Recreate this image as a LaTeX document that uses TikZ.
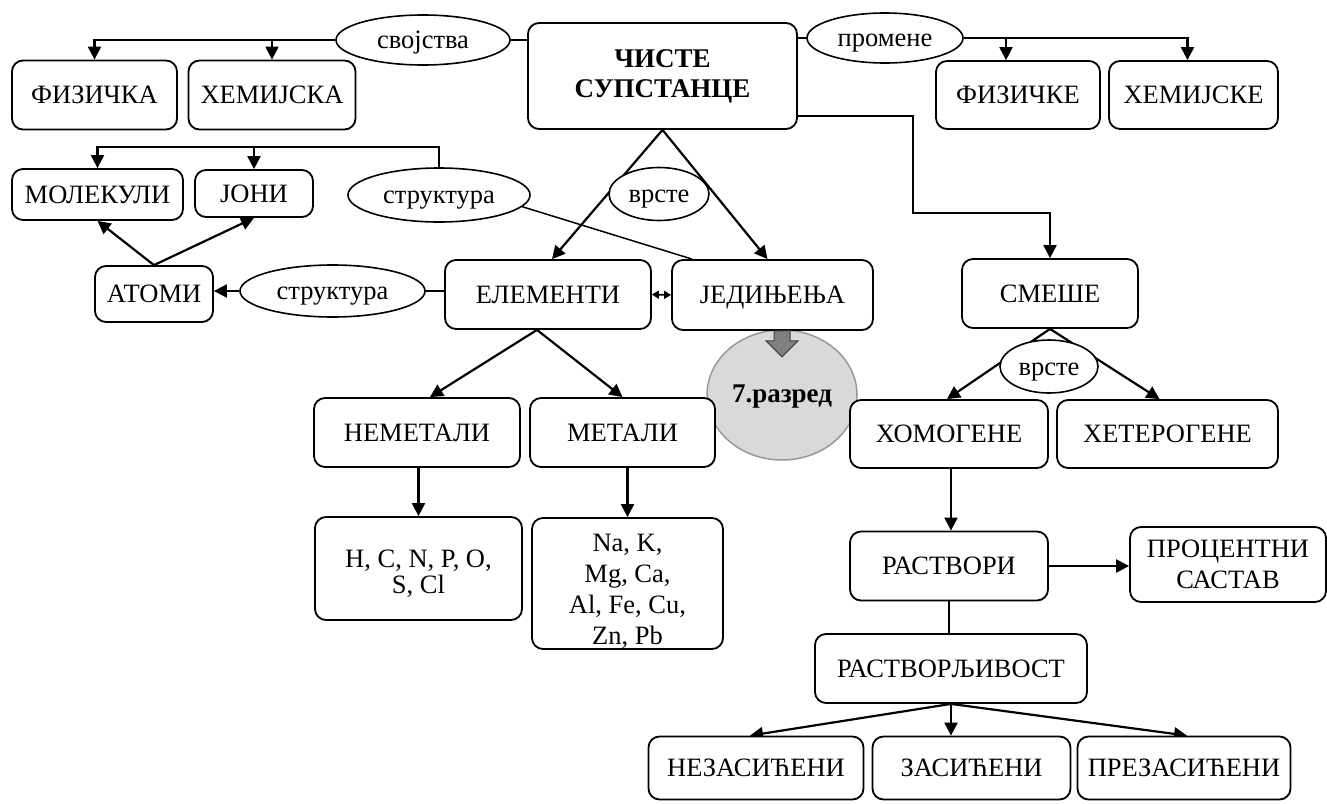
\documentclass[tikz,border=0pt]{standalone}
\usepackage{fontspec}
\setmainfont{Liberation Serif}
\usetikzlibrary{arrows.meta,shapes.geometric,calc}
\pgfdeclarelayer{bg}
\pgfsetlayers{bg,main}
\tikzset{
  sz/.style 2 args={minimum width=#1pt, minimum height=#2pt},
  box/.style={draw, fill=white, line width=1.8pt, rounded corners=11pt, inner sep=0pt, align=center, font=\fontsize{26.5}{31}\selectfont},
  one/.style={text height=17.5pt, text depth=0pt},
  oval/.style={draw, ellipse, fill=white, line width=1.6pt, inner sep=0pt, text height=21pt, text depth=4pt, font=\fontsize{26.5}{31}\selectfont},
  arr/.style={line width=2.2pt, -{Triangle[length=13pt,width=13pt]}},
  ln/.style={line width=2pt},
  thinln/.style={line width=1.5pt},
  dbl/.style={line width=1.6pt, {Triangle[length=7pt,width=8pt]}-{Triangle[length=7pt,width=8pt]}},
}
\begin{document}
\begin{tikzpicture}[x=1pt,y=-1pt]
\useasboundingbox (0,0) rectangle (1327,803);
% grade circle
\node[ellipse, draw=black!40, fill=black!15, line width=1.5pt, minimum width=150pt, minimum height=130pt, inner sep=0pt, text height=19pt, text depth=5pt, font=\bfseries\fontsize{27}{31}\selectfont] (razred) at (782,395) {7.разред};
% boxes
\node[box,one,sz={165}{69}] (fizicka) at (94.5,95) {ФИЗИЧКА};
\node[box,one,sz={167}{69}] (hemijska) at (272,95) {ХЕМИЈСКА};
\node[oval,sz={174}{50}] (svojstva) at (423,40) {својства};
\node[box,sz={269}{106},font=\bfseries\fontsize{27}{30}\selectfont] (ciste) at (662.5,76) {ЧИСТЕ\\СУПСТАНЦЕ};
\node[oval,sz={156}{50}] (promene) at (885,38) {промене};
\node[box,one,sz={164}{68}] (fizicke) at (1018,95) {ФИЗИЧКЕ};
\node[box,one,sz={169}{68}] (hemijske) at (1193.5,95) {ХЕМИЈСКЕ};
\node[box,one,sz={171}{51}] (molekuli) at (97.5,194.5) {МОЛЕКУЛИ};
\node[box,one,sz={118}{47}] (joni) at (254,193.5) {ЈОНИ};
\node[oval,sz={182}{54}] (struktura1) at (439,195) {структура};
\node[oval,sz={100}{53}] (vrste1) at (659,194) {врсте};
\node[box,one,sz={118}{56}] (atomi) at (154,294) {АТОМИ};
\node[oval,sz={185}{52}] (struktura2) at (332.5,291) {структура};
\node[box,one,sz={206}{69}] (elementi) at (548,294.5) {ЕЛЕМЕНТИ};
\node[box,one,sz={201}{70}] (jedinjenja) at (772.5,295) {ЈЕДИЊЕЊА};
\node[box,one,sz={176}{69}] (smese) at (1050,293.5) {СМЕШЕ};
\node[oval,sz={98}{53}] (vrste2) at (1049,366.5) {врсте};
\node[box,one,sz={206}{69}] (nemetali) at (417,432.5) {НЕМЕТАЛИ};
\node[box,one,sz={185}{69}] (metali) at (622.5,432.5) {МЕТАЛИ};
\node[box,one,sz={198}{68}] (homogene) at (949,434) {ХОМОГЕНЕ};
\node[box,one,sz={221}{68}] (heterogene) at (1167.5,434) {ХЕТЕРОГЕНЕ};
\node[box,sz={207}{103},font=\fontsize{26.5}{26}\selectfont] (hc) at (418.5,568.5) {\rule{0pt}{29pt}H, C, N, P, O,\\S, Cl};
\node[box,sz={191}{131},font=\fontsize{26.5}{30.7}\selectfont] (na) at (627.5,583.5) {\rule{0pt}{33pt}Na, K,\\Mg, Ca,\\Al, Fe, Cu,\\Zn, Pb};
\node[box,one,sz={198}{69}] (rastvori) at (949,566) {РАСТВОРИ};
\node[box,sz={196}{75}] (procentni) at (1228,564.5) {ПРОЦЕНТНИ\\САСТАВ};
\node[box,one,sz={272}{69}] (rastvorljivost) at (951,668.5) {РАСТВОРЉИВОСТ};
\node[box,one,sz={215}{63}] (nezas) at (756,768) {НЕЗАСИЋЕНИ};
\node[box,one,sz={198}{63}] (zas) at (971.5,768) {ЗАСИЋЕНИ};
\node[box,one,sz={213}{63}] (prezas) at (1184,768) {ПРЕЗАСИЋЕНИ};
% gray block arrow
\draw[fill=black!50, draw=black!75, line width=1pt] ($(jedinjenja.south)+(9.5,0)$) ++(-8,0) -- ++(16,0) -- ++(0,10) -- ++(8,0) -- ++(-16,16) -- ++(-16,-16) -- ++(8,0) -- cycle;
\coordinate (k1) at (913,213);
\begin{pgfonlayer}{bg}
\draw[arr] (svojstva.west) -| (fizicka.north);
\draw[arr] (svojstva.west) -| (hemijska.north);
\draw[ln] (svojstva.east) -- (svojstva.east -| ciste.west);
\draw[ln] (promene.west) -- (promene.west -| ciste.east);
\draw[arr] (promene.east) -| ($(fizicke.north)+(-12,0)$);
\draw[arr] (promene.east) -| ($(hemijske.north)+(-6,0)$);
\draw[arr] ([yshift=-40pt]ciste.east) -| (k1) -| (smese.north);
\draw[arr] (ciste.south) -- ($(elementi.north)+(4,0)$);
\draw[arr] (ciste.south) -- ($(jedinjenja.north)+(-5,0)$);
\draw[arr] (struktura1.north) -- ++(0,-20) -| (molekuli.north);
\draw[arr] (struktura1.north) -- ++(0,-20) -| (joni.north);
\draw[thinln] (struktura1.-8) -- ($(jedinjenja.north west)+(21,0)$);
\draw[arr] (atomi.north) -- (molekuli.south);
\draw[arr] (atomi.north) -- (joni.south);
\draw[arr] (struktura2.west) -- (struktura2.west -| atomi.east);
\draw[ln] (elementi.west |- struktura2.east) -- (struktura2.east);
\draw[dbl] (elementi.east) -- (jedinjenja.west);
\draw[arr] ($(elementi.south)+(-11,0)$) -- ($(nemetali.north)+(13,0)$);
\draw[arr] ($(elementi.south)+(-11,0)$) -- (metali.north);
\draw[arr] (hc.north |- nemetali.south) -- (hc.north);
\draw[arr] (na.north |- metali.south) -- (na.north);
\draw[arr] (smese.south) -- ($(homogene.north)+(-2,0)$);
\draw[arr] (smese.south) -- ($(heterogene.north)+(-8,0)$);
\draw[arr] ($(homogene.south)+(2,0)$) -- ($(rastvori.north)+(2,0)$);
\draw[arr] (rastvori.east) -- (rastvori.east -| procentni.west);
\draw[thinln] (rastvori.south) -- (rastvori.south |- rastvorljivost.north);
\draw[arr] (rastvorljivost.south) -- ($(nezas.north)+(-6,0)$);
\draw[arr] (rastvorljivost.south) -- (rastvorljivost.south |- zas.north);
\draw[arr] (rastvorljivost.south) -- ($(prezas.north)+(3,0)$);
\end{pgfonlayer}
\end{tikzpicture}
\end{document}
